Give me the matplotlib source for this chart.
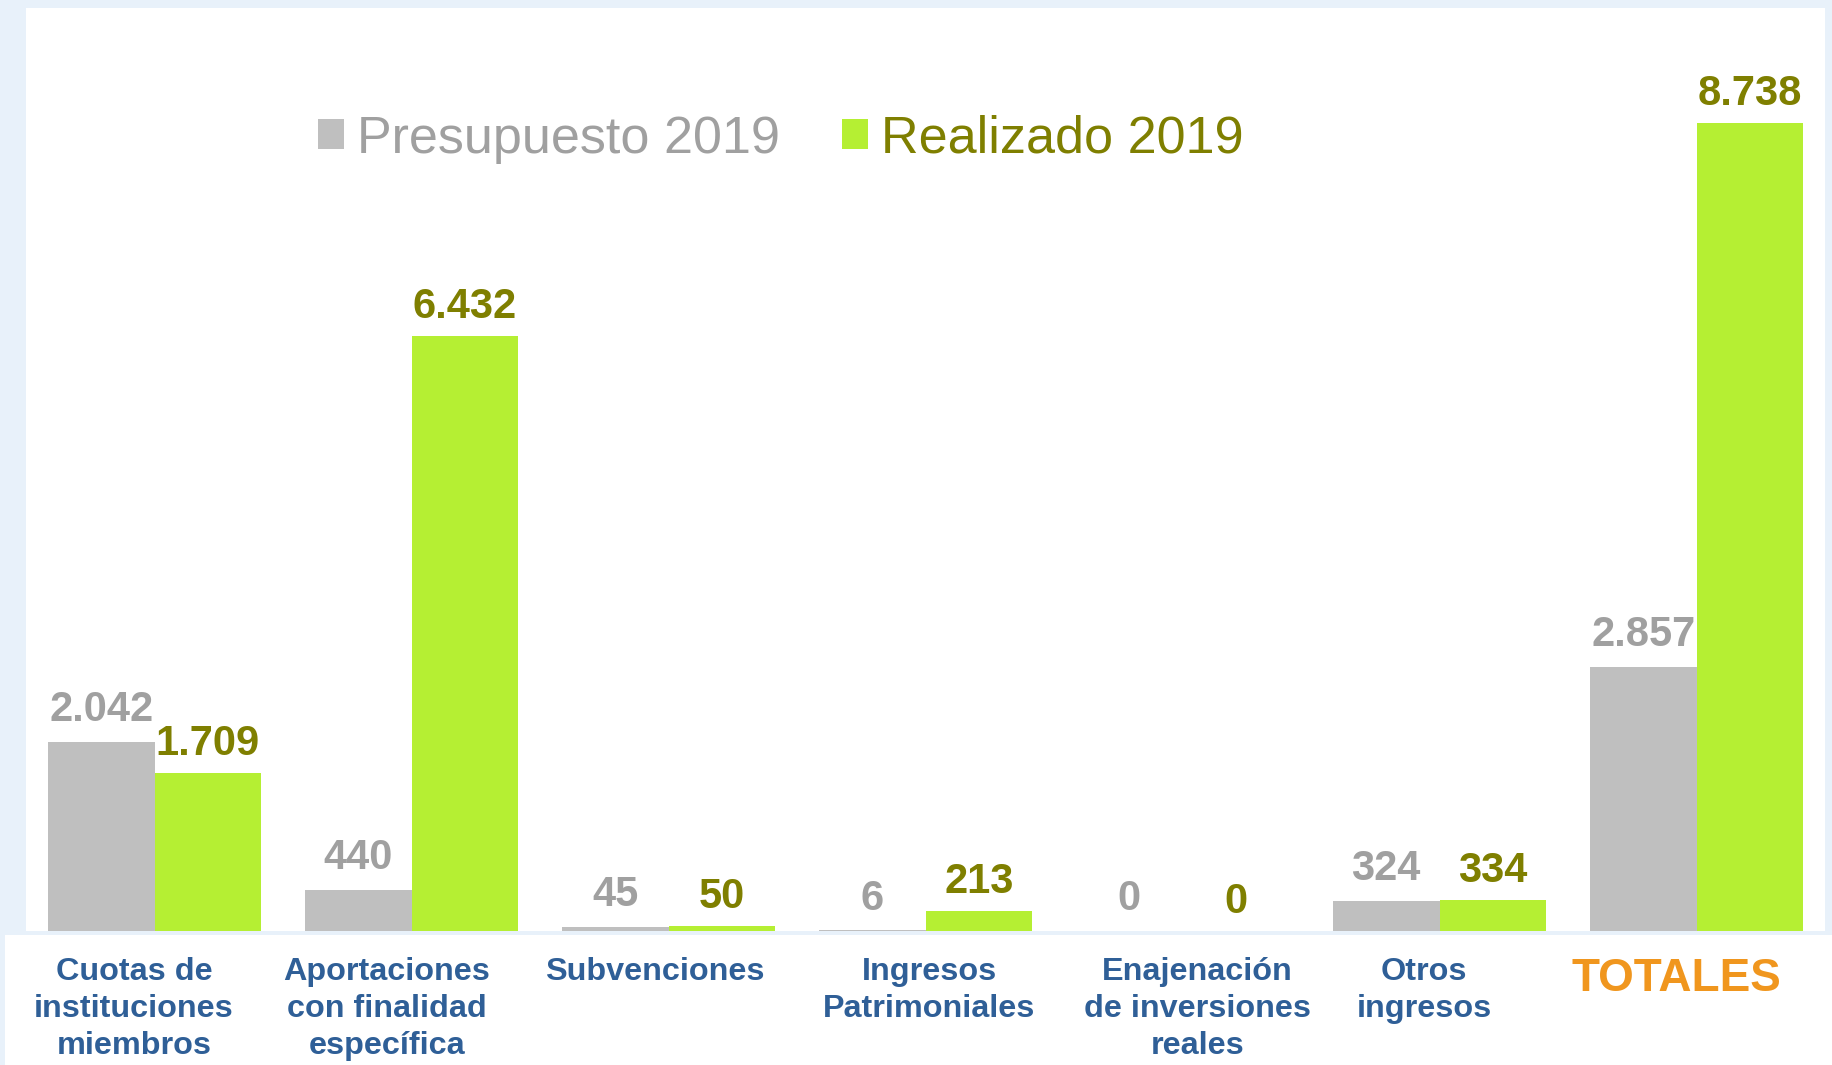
import matplotlib
matplotlib.use('Agg')
import matplotlib.pyplot as plt
import matplotlib.transforms as mtransforms
from matplotlib.patches import Patch, Rectangle
import numpy as np

# datos (miles de euros)
categorias = [
    'Cuotas de\ninstituciones\nmiembros',
    'Aportaciones\ncon finalidad\nespecífica',
    'Subvenciones',
    'Ingresos\nPatrimoniales',
    'Enajenación\nde inversiones\nreales',
    'Otros\ningresos',
    'TOTALES',
]
presupuesto = [2042, 440, 45, 6, 0, 324, 2857]
realizado = [1709, 6432, 50, 213, 0, 334, 8738]
etiq_presupuesto = ['2.042', '440', '45', '6', '0', '324', '2.857']
etiq_realizado = ['1.709', '6.432', '50', '213', '0', '334', '8.738']

# colores
GRIS = '#bfbfbf'
VERDE = '#b5ef33'
TXT_GRIS = '#a0a0a0'
TXT_OLIVA = '#7f7f00'
TXT_AZUL = '#2f5f97'
NARANJA = '#f0961e'
FONDO = '#e8f1fa'

# pequeños ajustes horizontales de las etiquetas de categoria
label_dx = [-0.08, -0.095, -0.055, 0.014, 0.059, -0.059, -0.077]

plt.rcParams['font.family'] = ['Liberation Sans', 'DejaVu Sans']

W, H = 1832, 1065
fig = plt.figure(figsize=(W / 100, H / 100), dpi=100)
fig.patch.set_facecolor(FONDO)

# panel inferior blanco para las etiquetas
fig.patches.append(Rectangle((5 / W, 0), 1, (H - 935) / H, transform=fig.transFigure,
                             facecolor='white', edgecolor='none', zorder=-1))

ax = fig.add_axes([26 / W, 1 - 931 / H, (1825 - 26) / W, (931 - 8) / H])
ax.set_facecolor('white')

x = np.arange(len(categorias))
ancho = 0.415
ax.bar(x - ancho / 2, presupuesto, ancho, color=GRIS, label='Presupuesto 2019')
ax.bar(x + ancho / 2, realizado, ancho, color=VERDE, label='Realizado 2019')

for i in range(len(categorias)):
    ax.annotate(etiq_presupuesto[i], (x[i] - ancho / 2, presupuesto[i]),
                xytext=(0, 15), textcoords='offset points', ha='center', va='baseline',
                fontsize=30, fontweight='bold', color=TXT_GRIS)
    ax.annotate(etiq_realizado[i], (x[i] + ancho / 2, realizado[i]),
                xytext=(0, 13), textcoords='offset points', ha='center', va='baseline',
                fontsize=30, fontweight='bold', color=TXT_OLIVA)

ax.set_xlim(-0.5, len(categorias) - 0.5)
ax.set_ylim(0, 9980)
for s in ax.spines.values():
    s.set_visible(False)
ax.set_xticks([])
ax.set_yticks([])

# etiquetas de categoria
trans = mtransforms.blended_transform_factory(ax.transData, fig.transFigure)
for i, cat in enumerate(categorias):
    es_total = cat == 'TOTALES'
    ax.text(x[i] + label_dx[i], 1 - 957 / H, cat, transform=trans,
            ha='center', va='top', multialignment='center',
            fontsize=33 if es_total else 23.3, fontweight='bold',
            color=NARANJA if es_total else TXT_AZUL, linespacing=1.31,
            clip_on=False)

# leyenda
handles = [Patch(facecolor=GRIS, edgecolor='none'), Patch(facecolor=VERDE, edgecolor='none')]
leg = fig.legend(handles, ['Presupuesto 2019', 'Realizado 2019'], loc='center left',
                 bbox_to_anchor=(292 / W, 1 - 139 / H), ncol=2, frameon=False,
                 fontsize=37.5, handlelength=0.5, handleheight=0.5,
                 handletextpad=0.25, columnspacing=1.19, borderpad=0,
                 labelcolor=[TXT_GRIS, TXT_OLIVA])

fig.savefig('out.png', dpi=100, facecolor=fig.get_facecolor())
plt.close(fig)
